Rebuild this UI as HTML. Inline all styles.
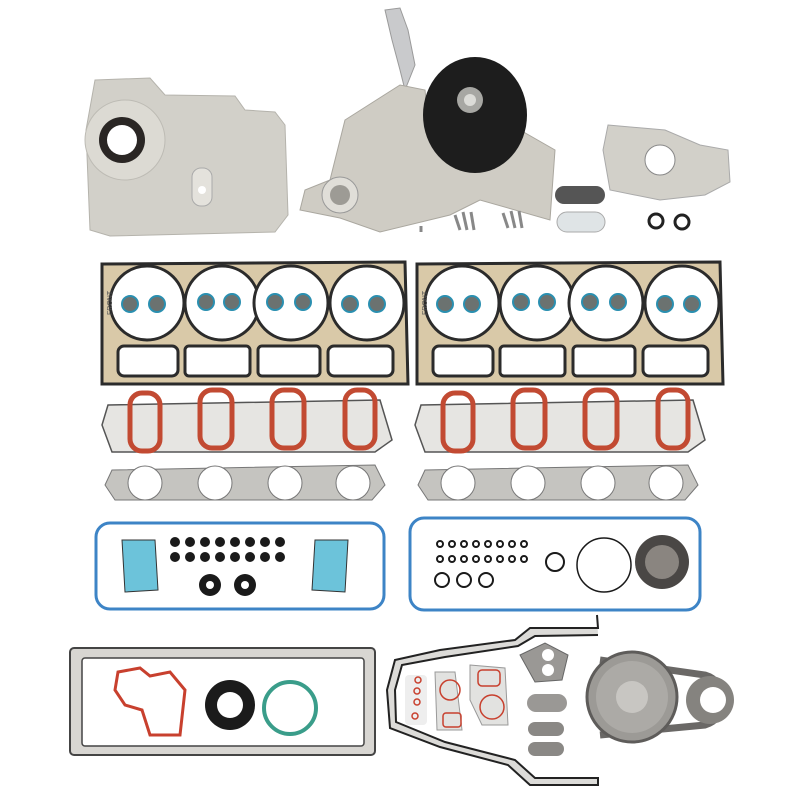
<!DOCTYPE html>
<html><head><meta charset="utf-8"><style>html,body{margin:0;padding:0;background:#fff}svg{display:block}</style></head>
<body>
<svg width="800" height="800" viewBox="0 0 800 800" xmlns="http://www.w3.org/2000/svg">
<rect width="800" height="800" fill="#fff"/>
<!-- Timing cover -->
<path d="M95,80 L150,78 L165,95 L235,96 L245,110 L275,112 L285,125 L288,215 L275,232 L110,236 L90,230 L86,130 Z" fill="#d2d0c9" stroke="#b5b3ac"/>
<circle cx="125" cy="140" r="40" fill="#dcdad3" stroke="#bdbbb4"/>
<circle cx="122" cy="140" r="23" fill="#2a2624"/>
<circle cx="122" cy="140" r="15" fill="#fff"/>
<rect x="192" y="168" width="20" height="38" rx="9" fill="#e4e2dc" stroke="#aaa"/>
<circle cx="202" cy="190" r="4" fill="#fff"/>
<!-- Water pump -->
<path d="M385,10 L400,8 L408,30 L415,65 L405,90 L400,70 L392,40 Z" fill="#c9cacc" stroke="#9a9a9a"/>
<path d="M345,120 L400,85 L425,90 L430,140 L520,130 L555,150 L550,220 L480,200 L450,215 L380,232 L340,218 L300,210 L305,190 L330,180 Z" fill="#cfccc4" stroke="#aaa79f"/>
<circle cx="340" cy="195" r="18" fill="#e0ded8" stroke="#999"/>
<circle cx="340" cy="195" r="10" fill="#9d9b95"/>
<ellipse cx="475" cy="115" rx="52" ry="58" fill="#1d1d1d"/>
<circle cx="470" cy="100" r="13" fill="#a7a7a3"/>
<circle cx="470" cy="100" r="6" fill="#dcdcd8"/>
<!-- Oil pump -->
<path d="M608,125 L665,130 L700,145 L728,150 L730,182 L705,195 L660,200 L610,190 L603,150 Z" fill="#d2d0c9" stroke="#aaa"/>
<circle cx="660" cy="160" r="15" fill="#fff" stroke="#888"/>
<!-- small parts -->
<rect x="555" y="186" width="50" height="18" rx="9" fill="#555"/>
<rect x="557" y="212" width="48" height="20" rx="10" fill="#dfe4e6" stroke="#aaa"/>
<circle cx="656" cy="221" r="7" fill="none" stroke="#222" stroke-width="3"/>
<circle cx="682" cy="222" r="7" fill="none" stroke="#222" stroke-width="3"/>
<g stroke="#888" stroke-width="3"><line x1="455" y1="215" x2="460" y2="230"/><line x1="463" y1="212" x2="467" y2="230"/><line x1="471" y1="212" x2="474" y2="230"/><line x1="503" y1="213" x2="508" y2="228"/><line x1="511" y1="211" x2="515" y2="228"/><line x1="519" y1="211" x2="522" y2="228"/><line x1="421" y1="226" x2="421" y2="232"/></g>
<!-- Head gaskets -->
<g id="hg">
<path d="M102,264 L405,262 L408,384 L102,384 Z" fill="#d9c9a8" stroke="#2b2b2b" stroke-width="3"/>
<g fill="#fff" stroke="#2b2b2b" stroke-width="3">
<circle cx="147" cy="303" r="37"/><circle cx="222" cy="303" r="37"/><circle cx="291" cy="303" r="37"/><circle cx="367" cy="303" r="37"/>
<rect x="118" y="346" width="60" height="30" rx="6"/><rect x="185" y="346" width="65" height="30" rx="4"/><rect x="258" y="346" width="62" height="30" rx="4"/><rect x="328" y="346" width="65" height="30" rx="6"/>
</g>
<g fill="#6b7270" stroke="#2a8fb0" stroke-width="2">
<circle cx="130" cy="304" r="8"/><circle cx="157" cy="304" r="8"/><circle cx="206" cy="302" r="8"/><circle cx="232" cy="302" r="8"/><circle cx="275" cy="302" r="8"/><circle cx="303" cy="302" r="8"/><circle cx="350" cy="304" r="8"/><circle cx="377" cy="304" r="8"/>
</g>
<text x="112" y="315" font-family="Liberation Sans,sans-serif" font-size="7" fill="#555" transform="rotate(-90 112 315)">FRONT</text>
</g>
<use href="#hg" transform="translate(315,0)"/>
<!-- Intake gaskets -->
<g id="ig">
<path d="M108,405 L380,400 L392,440 L375,452 L112,452 L102,425 Z" fill="#e6e5e2" stroke="#555" stroke-width="1.5"/>
<g fill="none" stroke="#c24a32" stroke-width="5">
<rect x="130" y="393" width="30" height="58" rx="12"/><rect x="200" y="390" width="32" height="58" rx="12"/><rect x="272" y="390" width="32" height="58" rx="12"/><rect x="345" y="390" width="30" height="58" rx="12"/>
</g>
</g>
<use href="#ig" transform="translate(313,0)"/>
<!-- Exhaust gaskets -->
<g id="eg">
<path d="M112,470 L375,465 L385,485 L372,500 L115,500 L105,485 Z" fill="#c5c4c0" stroke="#777"/>
<g fill="#fff" stroke="#777"><circle cx="145" cy="483" r="17"/><circle cx="215" cy="483" r="17"/><circle cx="285" cy="483" r="17"/><circle cx="353" cy="483" r="17"/></g>
</g>
<use href="#eg" transform="translate(313,0)"/>
<!-- Valve cover gaskets -->
<rect x="96" y="523" width="288" height="86" rx="14" fill="none" stroke="#3d84c6" stroke-width="3"/>
<rect x="410" y="518" width="290" height="92" rx="14" fill="none" stroke="#3d84c6" stroke-width="3"/>
<path d="M122,540 L155,540 L158,590 L125,592 Z" fill="#6cc3da" stroke="#333"/>
<path d="M315,540 L348,540 L345,592 L312,590 Z" fill="#6cc3da" stroke="#333"/>
<g fill="#1a1a1a">
<circle cx="175" cy="542" r="5"/><circle cx="190" cy="542" r="5"/><circle cx="205" cy="542" r="5"/><circle cx="220" cy="542" r="5"/><circle cx="235" cy="542" r="5"/><circle cx="250" cy="542" r="5"/><circle cx="265" cy="542" r="5"/><circle cx="280" cy="542" r="5"/>
<circle cx="175" cy="557" r="5"/><circle cx="190" cy="557" r="5"/><circle cx="205" cy="557" r="5"/><circle cx="220" cy="557" r="5"/><circle cx="235" cy="557" r="5"/><circle cx="250" cy="557" r="5"/><circle cx="265" cy="557" r="5"/><circle cx="280" cy="557" r="5"/>
<circle cx="210" cy="585" r="11"/><circle cx="245" cy="585" r="11"/>
</g>
<circle cx="210" cy="585" r="4" fill="#fff"/><circle cx="245" cy="585" r="4" fill="#fff"/>
<g fill="none" stroke="#1a1a1a" stroke-width="2">
<circle cx="440" cy="544" r="3"/><circle cx="452" cy="544" r="3"/><circle cx="464" cy="544" r="3"/><circle cx="476" cy="544" r="3"/><circle cx="488" cy="544" r="3"/><circle cx="500" cy="544" r="3"/><circle cx="512" cy="544" r="3"/><circle cx="524" cy="544" r="3"/>
<circle cx="440" cy="559" r="3"/><circle cx="452" cy="559" r="3"/><circle cx="464" cy="559" r="3"/><circle cx="476" cy="559" r="3"/><circle cx="488" cy="559" r="3"/><circle cx="500" cy="559" r="3"/><circle cx="512" cy="559" r="3"/><circle cx="524" cy="559" r="3"/>
<circle cx="442" cy="580" r="7"/><circle cx="464" cy="580" r="7"/><circle cx="486" cy="580" r="7"/><circle cx="555" cy="562" r="9"/>
<circle cx="604" cy="565" r="27" stroke-width="1.5"/>
</g>
<circle cx="662" cy="562" r="27" fill="#4a4745"/><circle cx="662" cy="562" r="17" fill="#8a8580"/>
<!-- Oil pan gasket -->
<rect x="70" y="648" width="305" height="107" rx="4" fill="#d8d6d2" stroke="#444" stroke-width="2"/>
<rect x="82" y="658" width="282" height="88" rx="3" fill="#fff" stroke="#444" stroke-width="1.5"/>
<path d="M118,672 L140,668 L150,676 L170,672 L185,690 L180,735 L150,735 L142,710 L125,705 L115,690 Z" fill="none" stroke="#c8402e" stroke-width="3"/>
<circle cx="230" cy="705" r="25" fill="#1b1b1b"/><circle cx="230" cy="705" r="13" fill="#fff"/>
<circle cx="290" cy="708" r="26" fill="none" stroke="#3a9d8a" stroke-width="4"/>
<!-- Timing cover gasket -->
<path d="M597,615 L598,628 L530,628 L515,640 L440,650 L395,660 L387,690 L390,728 L440,747 L508,765 L530,785 L598,785 L598,778 L535,778 L515,760 L445,742 L396,722 L395,690 L402,665 L445,657 L518,646 L535,636 L598,635" fill="#dcdbd8" stroke="#222" stroke-width="2"/>
<rect x="405" y="675" width="22" height="50" rx="4" fill="#eee"/>
<g fill="none" stroke="#c8402e" stroke-width="1.5"><circle cx="418" cy="680" r="3"/><circle cx="417" cy="691" r="3"/><circle cx="417" cy="702" r="3"/><circle cx="415" cy="716" r="3"/></g>
<path d="M435,672 L455,672 L462,730 L437,730 Z" fill="#e2e2e0" stroke="#999"/>
<path d="M470,665 L505,668 L508,725 L482,725 L470,700 Z" fill="#e2e2e0" stroke="#999"/>
<g fill="none" stroke="#c8402e" stroke-width="1.5"><circle cx="450" cy="690" r="10"/><rect x="443" y="713" width="18" height="14" rx="3"/><rect x="478" y="670" width="22" height="16" rx="4"/><circle cx="492" cy="707" r="12"/></g>
<path d="M520,655 L545,643 L568,655 L562,680 L535,682 Z" fill="#9a9895" stroke="#666"/>
<circle cx="548" cy="655" r="6" fill="#fff"/><circle cx="548" cy="670" r="6" fill="#fff"/>
<rect x="527" y="694" width="40" height="18" rx="9" fill="#9a9895"/>
<rect x="528" y="722" width="36" height="14" rx="7" fill="#8a8885"/>
<rect x="528" y="742" width="36" height="14" rx="7" fill="#8a8885"/>
<!-- Timing chain -->
<path d="M600,660 L705,675 A26 26 0 0 1 705,725 L600,735" fill="none" stroke="#6a6866" stroke-width="7"/>
<circle cx="632" cy="697" r="45" fill="#9c9a96" stroke="#5e5c5a" stroke-width="3"/>
<circle cx="632" cy="697" r="36" fill="#acaaa6"/>
<circle cx="632" cy="697" r="16" fill="#c8c6c2"/>
<circle cx="710" cy="700" r="24" fill="#85837f"/>
<circle cx="713" cy="700" r="13" fill="#fff"/>
</svg>
</body></html>
